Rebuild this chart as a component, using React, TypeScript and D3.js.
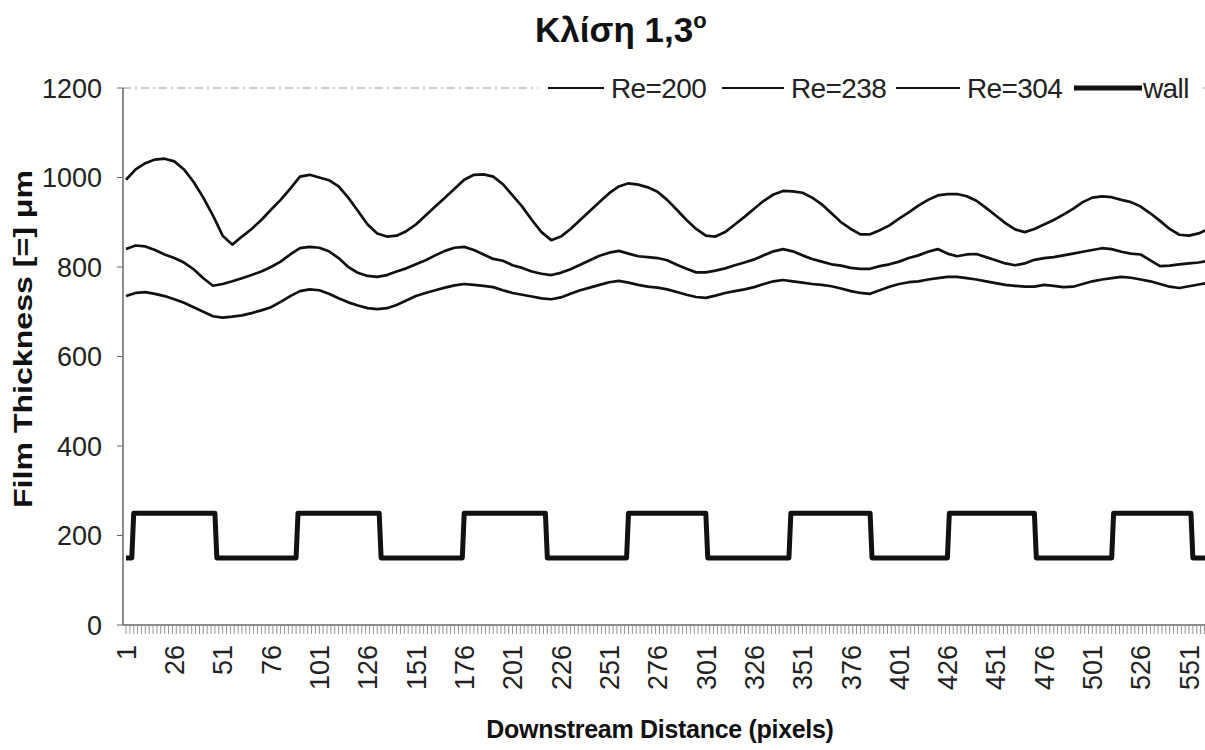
import React from "react";
import * as d3 from "d3";

const TITLE = "Κλίση 1,3";
const X_TITLE = "Downstream Distance (pixels)";
const Y_TITLE = "Film Thickness [=] μm";
const SERIES_NAMES = ["Re=200", "Re=238", "Re=304", "wall"];
const Y_TICKS = [0, 200, 400, 600, 800, 1000, 1200];
const X_TICK_LABELS = [1, 26, 51, 76, 101, 126, 151, 176, 201, 226, 251, 276, 301, 326, 351, 376, 401, 426, 451, 476, 501, 526, 551];
const N_POINTS = 560;
const SAMPLE_STEP = 5;

// sampled every 5 pixels (1, 6, 11, ... 556) plus the last point (560)
const re304 = [
  995, 1018, 1032, 1040, 1042, 1036, 1018, 990, 955, 915, 870, 850, 868, 885, 905, 928, 950, 975, 1002, 1006,
  1000, 994, 980, 955, 925, 895, 875, 868, 870, 880, 895, 915, 935, 955, 975, 995, 1006, 1007, 1002, 985,
  960, 935, 905, 878, 860, 868, 885, 905, 925, 945, 965, 980, 987, 984, 978, 968, 950, 928, 905, 885,
  870, 868, 878, 895, 912, 930, 948, 962, 970, 969, 966, 955, 940, 920, 900, 885, 873, 873, 882, 893,
  908, 922, 937, 950, 960, 963, 963, 958, 948, 932, 915, 898, 884, 878, 885, 895, 905, 917, 930, 945,
  955, 958, 956, 950, 945, 935, 920, 903, 885, 872, 870, 875, 883,
];
const re238 = [
  840, 848, 846, 838, 828, 820, 810, 795, 775, 758, 762, 768, 775, 782, 790, 800, 812, 828, 842, 845,
  843, 835, 820, 800, 787, 780, 778, 782, 790, 797, 806, 815, 826, 836, 843, 845, 838, 828, 818, 814,
  804, 798, 790, 785, 782, 787, 795, 805, 815, 825, 832, 836, 830, 824, 822, 820, 815, 805, 796, 788,
  788, 792, 797, 804, 810, 817, 826, 835, 840, 835, 826, 818, 812, 806, 803, 798, 796, 796, 802, 806,
  812, 820, 826, 834, 840, 830, 824, 828, 829, 822, 815, 808, 804, 808, 816, 820, 822, 826, 830, 834,
  838, 842, 840, 834, 830, 828, 815, 802, 803, 806, 808, 810, 813,
];
const re200 = [
  735, 742, 744, 740, 735, 728, 720, 710, 700, 690, 687, 689, 692, 697, 703, 710, 722, 735, 746, 750,
  748, 740, 730, 721, 714, 708, 706, 708, 715, 725, 735, 742, 748, 754, 759, 762, 760, 758, 755, 748,
  742, 738, 734, 730, 728, 732, 740, 748, 754, 760, 766, 769, 765, 760, 756, 754, 750, 744, 738, 733,
  731, 736, 742, 746, 750, 755, 762, 768, 771, 768, 765, 762, 760, 757, 752, 746, 742, 740, 748, 756,
  762, 766, 768, 772, 775, 778, 778, 775, 772, 768, 764, 760, 758, 756, 756, 760, 758, 755, 756, 762,
  768, 772, 775, 778, 776, 772, 768, 762, 756, 753, 757, 761, 764,
];
const wallIdx = [1, 4, 5, 47, 48, 89, 90, 132, 133, 175, 176, 218, 219, 260, 261, 301, 302, 344, 345, 386, 387, 426, 427, 471, 472, 511, 512, 552, 553, 560];
const wallVal = [150, 150, 250, 250, 150, 150, 250, 250, 150, 150, 250, 250, 150, 150, 250, 250, 150, 150, 250, 250, 150, 150, 250, 250, 150, 150, 250, 250, 150, 150];

const FONT = "'Liberation Sans', Arial, sans-serif";

export default function App() {
  const W = 1205, H = 750;
  const left = 123, right = 1205, top = 88, bottom = 625;
  const x = d3.scaleLinear().domain([1, 551]).range([126, 1189]);
  const y = d3.scaleLinear().domain([0, 1200]).range([bottom, top]);

  const sampleIdx = (arr: number[]) => arr.map((_, k) => Math.min(1 + k * SAMPLE_STEP, N_POINTS));
  const line = d3.line<[number, number]>().x(d => x(d[0])).y(d => y(d[1])).curve(d3.curveLinear);

  const curves = [re200, re238, re304].map(vals => {
    const idx = sampleIdx(vals);
    return line(vals.map((v, k) => [idx[k], v] as [number, number])) || "";
  });
  const wallPath = line(wallIdx.map((i, k) => [i, wallVal[k]] as [number, number])) || "";

  const minorTicks = d3.range(1, N_POINTS + 1, 2);

  const legendItems = [
    { lx: 548, lw: 56, tx: 611, w: 2, name: SERIES_NAMES[0] },
    { lx: 722, lw: 62, tx: 791, w: 2, name: SERIES_NAMES[1] },
    { lx: 896, lw: 64, tx: 967, w: 2, name: SERIES_NAMES[2] },
    { lx: 1074, lw: 68, tx: 1143, w: 5, name: SERIES_NAMES[3] },
  ];

  return (
    <svg width={W} height={H} style={{ position: "absolute", left: 0, top: 0, background: "#fff" }} fontFamily={FONT}>
      <rect x={0} y={0} width={W} height={H} fill="#fff" />
      {/* title */}
      <text x={535} y={42} fontSize={35} fontWeight="bold" fill="#111">
        {TITLE}
        <tspan fontSize={22} dy={-14}>o</tspan>
      </text>

      {/* plot top border */}
      <line x1={left} x2={right} y1={top} y2={top} stroke="#999" strokeWidth={1} strokeDasharray="8,4,2,4" />
      {/* y axis */}
      <line x1={left} x2={left} y1={top} y2={bottom} stroke="#666" strokeWidth={1.5} />
      {Y_TICKS.map(t => (
        <g key={t}>
          <line x1={left - 6} x2={left} y1={y(t)} y2={y(t)} stroke="#666" strokeWidth={1} />
          <text x={102} y={y(t)} dy="0.36em" textAnchor="end" fontSize={27} fill="#222">{t}</text>
        </g>
      ))}
      <text transform={`translate(32,339) rotate(-90)`} textAnchor="middle" fontSize={26} fontWeight="bold" fill="#111" textLength={338} lengthAdjust="spacingAndGlyphs">{Y_TITLE}</text>

      {/* x axis */}
      <line x1={left} x2={right} y1={bottom} y2={bottom} stroke="#666" strokeWidth={1.5} />
      {minorTicks.map(i => (
        <line key={i} x1={x(i)} x2={x(i)} y1={bottom} y2={bottom + 9} stroke="#888" strokeWidth={0.9} />
      ))}
      {X_TICK_LABELS.map(t => (
        <text key={t} transform={`translate(${x(t)},645) rotate(-90)`} dy="0.36em" textAnchor="end" fontSize={27} fill="#222">{t}</text>
      ))}
      <text x={660} y={738} textAnchor="middle" fontSize={25} fontWeight="bold" fill="#111" letterSpacing={-0.3}>{X_TITLE}</text>

      {/* series */}
      {curves.map((d, k) => (
        <path key={k} d={d} fill="none" stroke="#111" strokeWidth={2.7} strokeLinejoin="round" />
      ))}
      <path d={wallPath} fill="none" stroke="#111" strokeWidth={5} strokeLinejoin="round" />

      {/* legend */}
      <rect x={538} y={72} width={662} height={32} fill="#fff" />
      {legendItems.map(it => (
        <g key={it.name}>
          <line x1={it.lx} x2={it.lx + it.lw} y1={88} y2={88} stroke="#111" strokeWidth={it.w} />
          <text x={it.tx} y={98} fontSize={28} fill="#222" letterSpacing={-0.6}>{it.name}</text>
        </g>
      ))}
    </svg>
  );
}
